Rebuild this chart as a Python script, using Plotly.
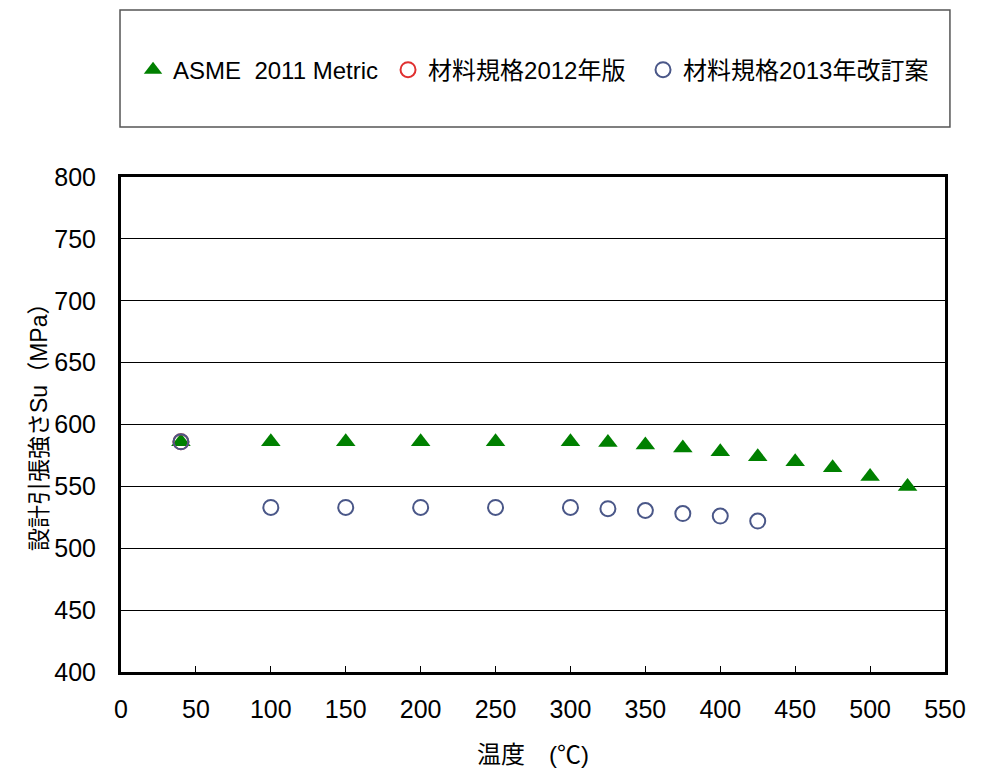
import plotly.graph_objects as go

# Data
asme_temp = [40, 100, 150, 200, 250, 300, 325, 350, 375, 400, 425, 450, 475, 500, 525]
asme_su = [586, 586, 586, 586, 586, 586, 585.5, 583.5, 581, 578, 574, 570, 565, 558, 550]

std2012_temp = [40]
std2012_su = [586]

std2013_temp = [40, 100, 150, 200, 250, 300, 325, 350, 375, 400, 425]
std2013_su = [586, 533, 533, 533, 533, 533, 532, 530.5, 528, 526, 522]

x_ticks = [0, 50, 100, 150, 200, 250, 300, 350, 400, 450, 500, 550]
y_ticks = [400, 450, 500, 550, 600, 650, 700, 750, 800]

names = ["ASME  2011 Metric", "材料規格2012年版", "材料規格2013年改訂案"]
y_title = "設計引張強さSu（MPa）"
x_title = "温度　(℃)"

fig = go.Figure()
fig.add_trace(go.Scatter(
    x=asme_temp, y=asme_su, mode="markers", name=names[0],
    marker=dict(symbol="triangle-up", size=17, color="#008000"),
    legendrank=1))
fig.add_trace(go.Scatter(
    x=std2012_temp, y=std2012_su, mode="markers", name=names[1],
    marker=dict(symbol="circle-open", size=15, color="#e03030", line=dict(width=2, color="#e03030")),
    legendrank=2))
fig.add_trace(go.Scatter(
    x=std2013_temp, y=std2013_su, mode="markers", name=names[2],
    marker=dict(symbol="circle-open", size=15, color="#4a5788", line=dict(width=2, color="#4a5788")),
    legendrank=3, legendwidth=270))

latin = "Arial, 'Noto Sans CJK JP', sans-serif"

fig.update_layout(
    width=975, height=763,
    paper_bgcolor="white", plot_bgcolor="white",
    margin=dict(l=113, r=38, t=169, b=99, autoexpand=False),
    font=dict(family=latin, color="black", size=24),
    showlegend=True,
    legend=dict(orientation="h", x=0.0146, xanchor="left", y=1.216, yanchor="middle",
                font=dict(family=latin, size=24), bgcolor="rgba(0,0,0,0)",
                itemwidth=30, tracegroupgap=0, traceorder="normal",
                entrywidth=210, entrywidthmode="pixels"),
    shapes=[dict(type="rect", xref="paper", yref="paper",
                 x0=-0.0012, x1=1.006, y0=1.101, y1=1.3374,
                 line=dict(color="#555555", width=1.5))],
    annotations=[dict(text=y_title, textangle=-90, xref="paper", yref="paper",
                      x=(39 - 121) / 824, y=(672 - 422) / 495, xanchor="center", yanchor="middle",
                      showarrow=False, font=dict(family=latin, size=23, color="black"))],
    xaxis=dict(range=[0, 550], tickvals=x_ticks, ticks="inside", ticklen=6, tickwidth=1,
               tickcolor="black", showgrid=False, zeroline=False, automargin=False,
               showline=True, linecolor="black", linewidth=3, mirror=True,
               tickfont=dict(family=latin, size=25), ticklabelstandoff=13,
               title=dict(text=x_title, font=dict(family=latin, size=24), standoff=25)),
    yaxis=dict(range=[400, 800], tickvals=y_ticks, ticks="", showgrid=True, automargin=False,
               gridcolor="black", gridwidth=1, zeroline=False,
               showline=True, linecolor="black", linewidth=3, mirror=True,
               tickfont=dict(family=latin, size=25), ticklabelstandoff=17),
)

fig.write_html("out.html")
